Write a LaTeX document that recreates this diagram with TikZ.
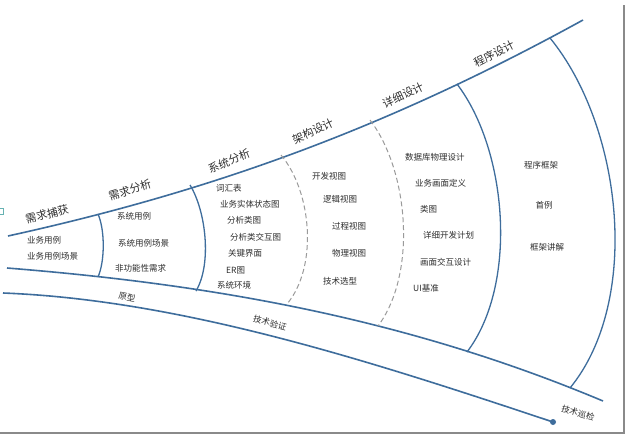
\documentclass[tikz,border=0pt]{standalone}
\usepackage{fontspec}
\setmainfont{Noto Sans CJK SC}
\usepackage{xcolor}
\definecolor{lineblue}{HTML}{3E6D9C}
\definecolor{dashgray}{HTML}{9A9A9A}
\definecolor{txtgray}{HTML}{2E2E2E}
\definecolor{framegray}{HTML}{8A8A8A}
\usepackage{tikz}
\usetikzlibrary{positioning, calc}

\begin{document}
\begin{tikzpicture}[
  x=1pt, y=-1pt,
  band/.style={draw=lineblue, line width=1.6pt},
  divider/.style={draw=lineblue, line width=1.3pt},
  softdiv/.style={draw=dashgray, line width=1pt, dash pattern=on 5pt off 3pt},
  phase/.style={font=\fontsize{11}{13}\selectfont, text=txtgray, inner sep=1pt},
  item/.style={font=\fontsize{8.5}{10}\selectfont, text=txtgray,
    anchor=west, inner sep=1pt},
  track/.style={font=\fontsize{8.5}{10}\selectfont, text=txtgray, inner sep=1pt}
]
  \useasboundingbox (0,0) rectangle (628,437);
  \fill[white] (0,0) rectangle (628,437);

  % frame shadow
  \draw[framegray, line width=2.5pt] (0,433) -- (624,433) -- (624,5);
  \draw[teal!60, line width=0.6pt] (-1,208) rectangle (3,214);

  % three long bands
  \coordinate (topL) at (8,236);
  \coordinate (topR) at (583,20);
  \coordinate (midL) at (7,268);
  \coordinate (midR) at (603,401);
  \coordinate (lowL) at (3,293);
  \coordinate (lowR) at (553,422);
  \draw[band] (topL) .. controls (208,192) and (383,130) .. (topR);
  \draw[band] (midL) .. controls (207,284) and (403,317) .. (midR);
  \draw[band] (lowL) .. controls (183,300) and (373,362) .. (lowR);
  \fill[lineblue] (lowR) circle (3);

  % phase dividers
  \coordinate (d1t) at (98,214);  \coordinate (d1b) at (98,277);
  \coordinate (d2t) at (190,185); \coordinate (d2b) at (196,291);
  \coordinate (d3t) at (281,155); \coordinate (d3b) at (287,304);
  \coordinate (d4t) at (370,120); \coordinate (d4b) at (378,326);
  \coordinate (d5t) at (457,84);  \coordinate (d5b) at (467,352);
  \coordinate (d6t) at (550,38);  \coordinate (d6b) at (570,388);
  \draw[divider] (d1t) .. controls (105,230) and (105,261) .. (d1b);
  \draw[divider] (d2t) .. controls (206,211) and (212,264) .. (d2b);
  \draw[softdiv] (d3t) .. controls (312,192) and (318,267) .. (d3b);
  \draw[softdiv] (d4t) .. controls (409,171) and (417,274) .. (d4b);
  \draw[divider] (d5t) .. controls (508,151) and (518,285) .. (d5b);
  \draw[divider] (d6t) .. controls (622,126) and (642,300) .. (d6b);

  % phase titles
  \node[phase, rotate=14] (capture) at (47,214) {需求捕获};
  \node[phase, rotate=17] (analysis) at (130,190) {需求分析};
  \node[phase, rotate=22] (sysana) at (229,161) {系统分析};
  \node[phase, rotate=25] (arch) at (313,131) {架构设计};
  \node[phase, rotate=25] (detail) at (403,95) {详细设计};
  \node[phase, rotate=27] (prog) at (494,54) {程序设计};

  % requirement capture
  \node[item] (bizuc) at (26,240) {业务用例};
  \node[item] (bizsc) at (26,256) {业务用例场景};

  % requirement analysis
  \node[item] (sysuc) at (116,216) {系统用例};
  \node[item] (syssc) at (117,243) {系统用例场景};
  \node[item] (nonfn) at (114,268) {非功能性需求};

  % system analysis
  \node[item] (gloss) at (215,188) {词汇表};
  \node[item] (state) at (219,204) {业务实体状态图};
  \node[item] (cls) at (226,220) {分析类图};
  \node[item] (inter) at (229,237) {分析类交互图};
  \node[item] (keyui) at (227,253) {关键界面};
  \node[item] (er) at (225,270) {ER图};
  \node[item] (env) at (216,285) {系统环境};

  % architecture
  \node[item] (devv) at (311,176) {开发视图};
  \node[item] (logv) at (322,199) {逻辑视图};
  \node[item] (procv) at (331,226) {过程视图};
  \node[item] (phyv) at (331,253) {物理视图};
  \node[item] (tech) at (322,281) {技术选型};

  % detail design
  \node[item] (dbdes) at (404,157) {数据库物理设计};
  \node[item] (scrdef) at (414,183) {业务画面定义};
  \node[item] (clsd) at (419,209) {类图};
  \node[item] (plan) at (422,235) {详细开发计划};
  \node[item] (uides) at (419,262) {画面交互设计};
  \node[item] (uibase) at (412,288) {UI基准};

  % program design
  \node[track] (frame) at (541,165) {程序框架};
  \node[track] (first) at (544,205) {首例};
  \node[track] (expl) at (547,247) {框架讲解};

  % lower track labels
  \node[track, rotate=-11] (proto) at (127,297) {原型};
  \node[track, rotate=-15] (verify) at (270,323) {技术验证};
  \node[track, rotate=-16] (patrol) at (578,413) {技术巡检};
\end{tikzpicture}
\end{document}
